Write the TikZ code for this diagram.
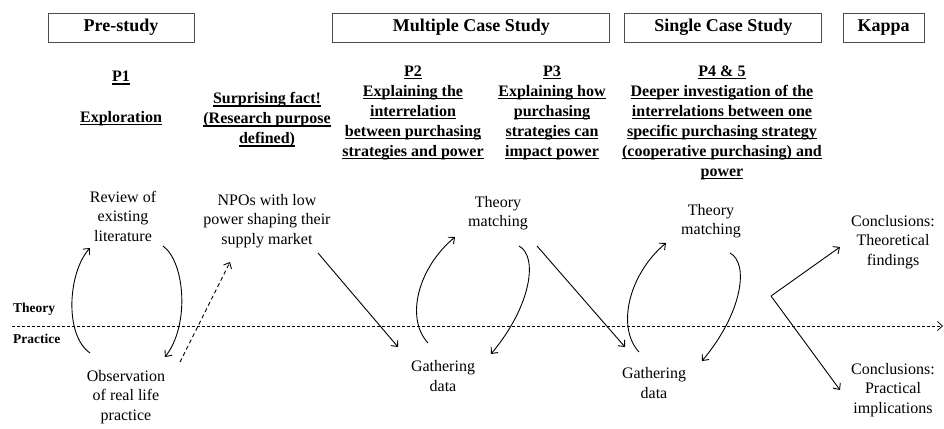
\documentclass[tikz,border=0pt]{standalone}
\usepackage{fontspec}
\setmainfont{Liberation Serif}
\usetikzlibrary{arrows.meta}
\tikzset{>={Straight Barb[length=5pt,width=9pt]}}
\tikzset{phase/.style={draw=black!70, line width=0.9pt, inner sep=0pt, minimum height=29pt, font=\fontsize{18}{22}\selectfont\bfseries}}
\tikzset{head/.style={align=center, inner sep=2pt, font=\fontsize{16}{20}\selectfont\bfseries}}
\tikzset{txt/.style={align=center, inner sep=2pt, font=\fontsize{16}{19.5}\selectfont}}
\tikzset{side/.style={anchor=west, inner sep=0pt, font=\fontsize{13.5}{15}\selectfont\bfseries}}
\tikzset{flow/.style={->, line width=0.9pt}}
\newsavebox{\ulbox}
\newcommand{\undl}[1]{\sbox{\ulbox}{#1}\rlap{\rule[-2.6pt]{\wd\ulbox}{1.1pt}}\usebox{\ulbox}}

\begin{document}
\begin{tikzpicture}[x=1pt,y=1pt]
\useasboundingbox (0,0) rectangle (944,-428);

% phases
\node[phase, minimum width=146pt] (pre) at (121,-27.5) {Pre-study};
\node[phase, minimum width=277pt] (multi) at (471.3,-27.5) {Multiple Case Study};
\node[phase, minimum width=197pt] (single) at (723.3,-27.5) {Single Case Study};
\node[phase, minimum width=81pt] (kappa) at (883.5,-27.5) {Kappa};

% papers
\node[head] (p1) at (121,-78) {\undl{P1}};
\node[head] (expl) at (121,-119) {\undl{Exploration}};
\node[head] (surp) at (267,-120) {\undl{Surprising fact!}\\\undl{(Research purpose}\\\undl{defined)}};
\node[head] (p2) at (413,-113) {\undl{P2}\\\undl{Explaining the}\\\undl{interrelation}\\\undl{between purchasing}\\\undl{strategies and power}};
\node[head] (p3) at (552,-113) {\undl{P3}\\\undl{Explaining how}\\\undl{purchasing}\\\undl{strategies can}\\\undl{impact power}};
\node[head] (p45) at (722,-123) {\undl{P4 \& 5}\\\undl{Deeper investigation of the}\\\undl{interrelations between one}\\\undl{specific purchasing strategy}\\\undl{(cooperative purchasing) and}\\\undl{power}};

% theory / practice
\node[side] (theo) at (13,-309) {Theory};
\node[side] (prac) at (13,-339) {Practice};
\coordinate (axL) at (12,-326);
\coordinate (axR) at (943,-326);
\draw[->, line width=0.8pt, dash pattern=on 3pt off 2pt] (axL) -- (axR);

% steps
\node[txt] (rev) at (123,-216) {Review of\\existing\\literature};
\node[txt] (obs) at (126,-397) {Observation\\of real life\\practice};
\node[txt] (npo) at (267,-221) {NPOs with low\\power shaping their\\supply market};
\node[txt] (tm1) at (498,-213) {Theory\\matching};
\node[txt] (gd1) at (443,-376) {Gathering\\data};
\node[txt] (tm2) at (711,-221) {Theory\\matching};
\node[txt] (gd2) at (654,-383) {Gathering\\data};
\node[txt] (ct) at (893,-242) {Conclusions:\\Theoretical\\findings};
\node[txt] (cp) at (893,-390) {Conclusions:\\Practical\\implications};
\coordinate (split) at (771,-296);

% loops
\draw[flow] ([shift={(-36,44)}]obs.center) .. controls +(-26,18) and +(-22,-24) .. ([shift={(-33,-32)}]rev.center);
\draw[flow] ([shift={(40,-30)}]rev.center) .. controls +(22,-16) and +(25,32) .. ([shift={(39,40)}]obs.center);
\draw[flow, dash pattern=on 4pt off 3pt] ([shift={(54,35)}]obs.center) -- ([shift={(-37,-41)}]npo.center);
\draw[flow] ([shift={(51,-32)}]npo.center) -- ([shift={(-45,29)}]gd1.center);
\draw[flow] ([shift={(-15,33)}]gd1.center) .. controls +(-23,25) and +(-37,-31) .. ([shift={(-43,-24)}]tm1.center);
\draw[flow] ([shift={(21,-33)}]tm1.center) .. controls +(19,-10) and +(41,49) .. ([shift={(48,22)}]gd1.center);
\draw[flow] ([shift={(39,-33)}]tm1.center) -- ([shift={(-29,36)}]gd2.center);
\draw[flow] ([shift={(-15,31)}]gd2.center) .. controls +(-23,25) and +(-37,-31) .. ([shift={(-45,-22)}]tm2.center);
\draw[flow] ([shift={(19,-32)}]tm2.center) .. controls +(19,-10) and +(41,49) .. ([shift={(48,22)}]gd2.center);
\draw[flow] (split) -- ([shift={(-53,-5)}]ct.center);
\draw[flow] (split) -- ([shift={(-53,0)}]cp.center);
\end{tikzpicture}
\end{document}
